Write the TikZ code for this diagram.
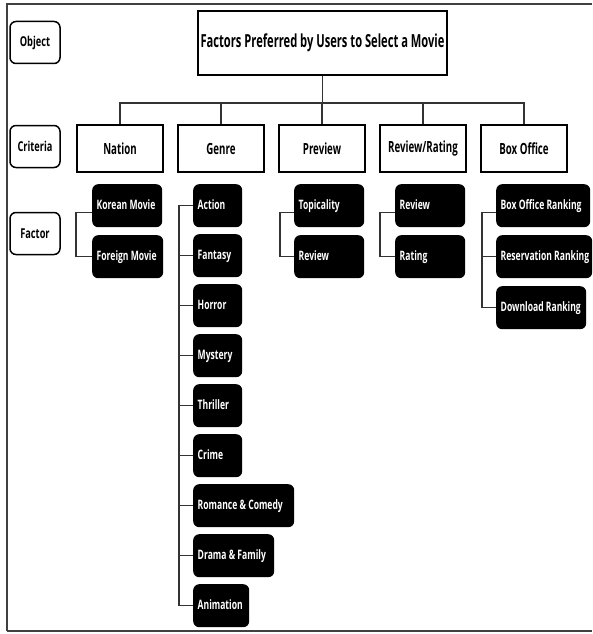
\documentclass[tikz,border=0pt]{standalone}
\usepackage{fontspec}
\setmainfont{Open Sans}
\newfontfamily\ftitle{Open Sans}[FakeStretch=0.62]
\newfontfamily\fcrit{Open Sans}[FakeStretch=0.63]
\newfontfamily\flab{Open Sans}[FakeStretch=0.68]
\newfontfamily\ffac{Open Sans}[FakeStretch=0.66]
\newcommand\facbox[2]{\makebox[#1][l]{#2}}
\begin{document}
\begin{tikzpicture}[x=1pt,y=-1pt,
  lab/.style={draw=black, line width=1.5pt, rounded corners=6pt, minimum width=50pt, minimum height=42pt, inner sep=0pt, font=\flab\bfseries\fontsize{13.6}{16}\selectfont},
  crit/.style={draw=black, line width=1.8pt, minimum width=86pt, minimum height=47pt, inner sep=0pt, font=\fcrit\bfseries\fontsize{15.4}{18}\selectfont},
  fac/.style={fill=black, text=white, rounded corners=6pt, minimum height=43pt, inner xsep=4.5pt, inner ysep=0pt, text height=9.3pt, text depth=2.5pt, font=\ffac\bfseries\fontsize{13}{15}\selectfont, anchor=north west},
  conn/.style={draw=black!80, line width=1.3pt},
  frame/.style={draw=black!75, line width=1.5pt}
]
\useasboundingbox (0,0) rectangle (592,634);
\draw[frame] (7,631) -- (7,4) -- (592,4);
\draw[frame] (7,631) -- (592,631);

% left labels
\node[lab] (lobj) at (35,42.5) {Object};
\node[lab] (lcrit) at (35,146.5) {Criteria};
\node[lab] (lfac) at (35,233.5) {Factor};

% title
\node[draw=black, line width=2pt, minimum width=249pt, minimum height=64pt, inner sep=0pt, font=\ftitle\bfseries\fontsize{18}{21}\selectfont] (title) at (322.5,43) {Factors Preferred by Users to Select a Movie};
\coordinate (bus) at (322,103);

% criteria
\node[crit] (nation) at (120,148.5) {Nation};
\node[crit] (genre) at (221,148.5) {Genre};
\node[crit] (preview) at (322,148.5) {Preview};
\node[crit] (review) at (423,148.5) {Review/Rating};
\node[crit] (box) at (524,148.5) {Box Office};

\draw[conn] (title.south) -- (title.south |- bus);
\foreach \c in {nation,genre,preview,review,box}
  \draw[conn] (\c.north) -- (\c.north |- bus) -- (bus);

% factors: nation
\node[fac] (kor) at (92,184) {\facbox{61pt}{Korean Movie}};
\node[fac] (for) at (92,235) {\facbox{62pt}{Foreign Movie}};
% genre
\node[fac] (act) at (193,184) {\facbox{40pt}{Action}};
\node[fac] (fan) at (193,234) {\facbox{40pt}{Fantasy}};
\node[fac] (hor) at (193,284) {\facbox{40pt}{Horror}};
\node[fac] (mys) at (193,334) {\facbox{40pt}{Mystery}};
\node[fac] (thr) at (193,384) {\facbox{40pt}{Thriller}};
\node[fac] (cri) at (193,434) {\facbox{40pt}{Crime}};
\node[fac] (rom) at (193,484) {\facbox{92pt}{Romance \& Comedy}};
\node[fac] (dra) at (193,534) {\facbox{72pt}{Drama \& Family}};
\node[fac] (ani) at (193,584) {\facbox{47pt}{Animation}};
% preview
\node[fac] (topi) at (294,184) {\facbox{61pt}{Topicality}};
\node[fac] (prev) at (294,235) {\facbox{61pt}{Review}};
% review/rating
\node[fac] (rev) at (395,184) {\facbox{61pt}{Review}};
\node[fac] (rat) at (395,235) {\facbox{61pt}{Rating}};
% box office
\node[fac] (bor) at (496,184) {\facbox{85pt}{Box Office Ranking}};
\node[fac] (rr) at (496,235) {\facbox{87pt}{Reservation Ranking}};
\node[fac] (dr) at (496,286) {\facbox{81pt}{Download Ranking}};

% connectors
\draw[conn] ([yshift=-6.5pt]kor.west) -- ++(-16,0) |- (for.west);
\draw[conn] (act.west) -- ++(-14,0) |- (ani.west);
\foreach \g in {fan,hor,mys,thr,cri,rom,dra}
  \draw[conn] (\g.west) -- ++(-14,0);
\draw[conn] ([yshift=-6.5pt]topi.west) -- ++(-14,0) |- (prev.west);
\draw[conn] ([yshift=-6.5pt]rev.west) -- ++(-15,0) |- (rat.west);
\draw[conn] ([yshift=-6.5pt]bor.west) -- ++(-14,0) |- (dr.west);
\draw[conn] (rr.west) -- ++(-14,0);
\end{tikzpicture}
\end{document}
